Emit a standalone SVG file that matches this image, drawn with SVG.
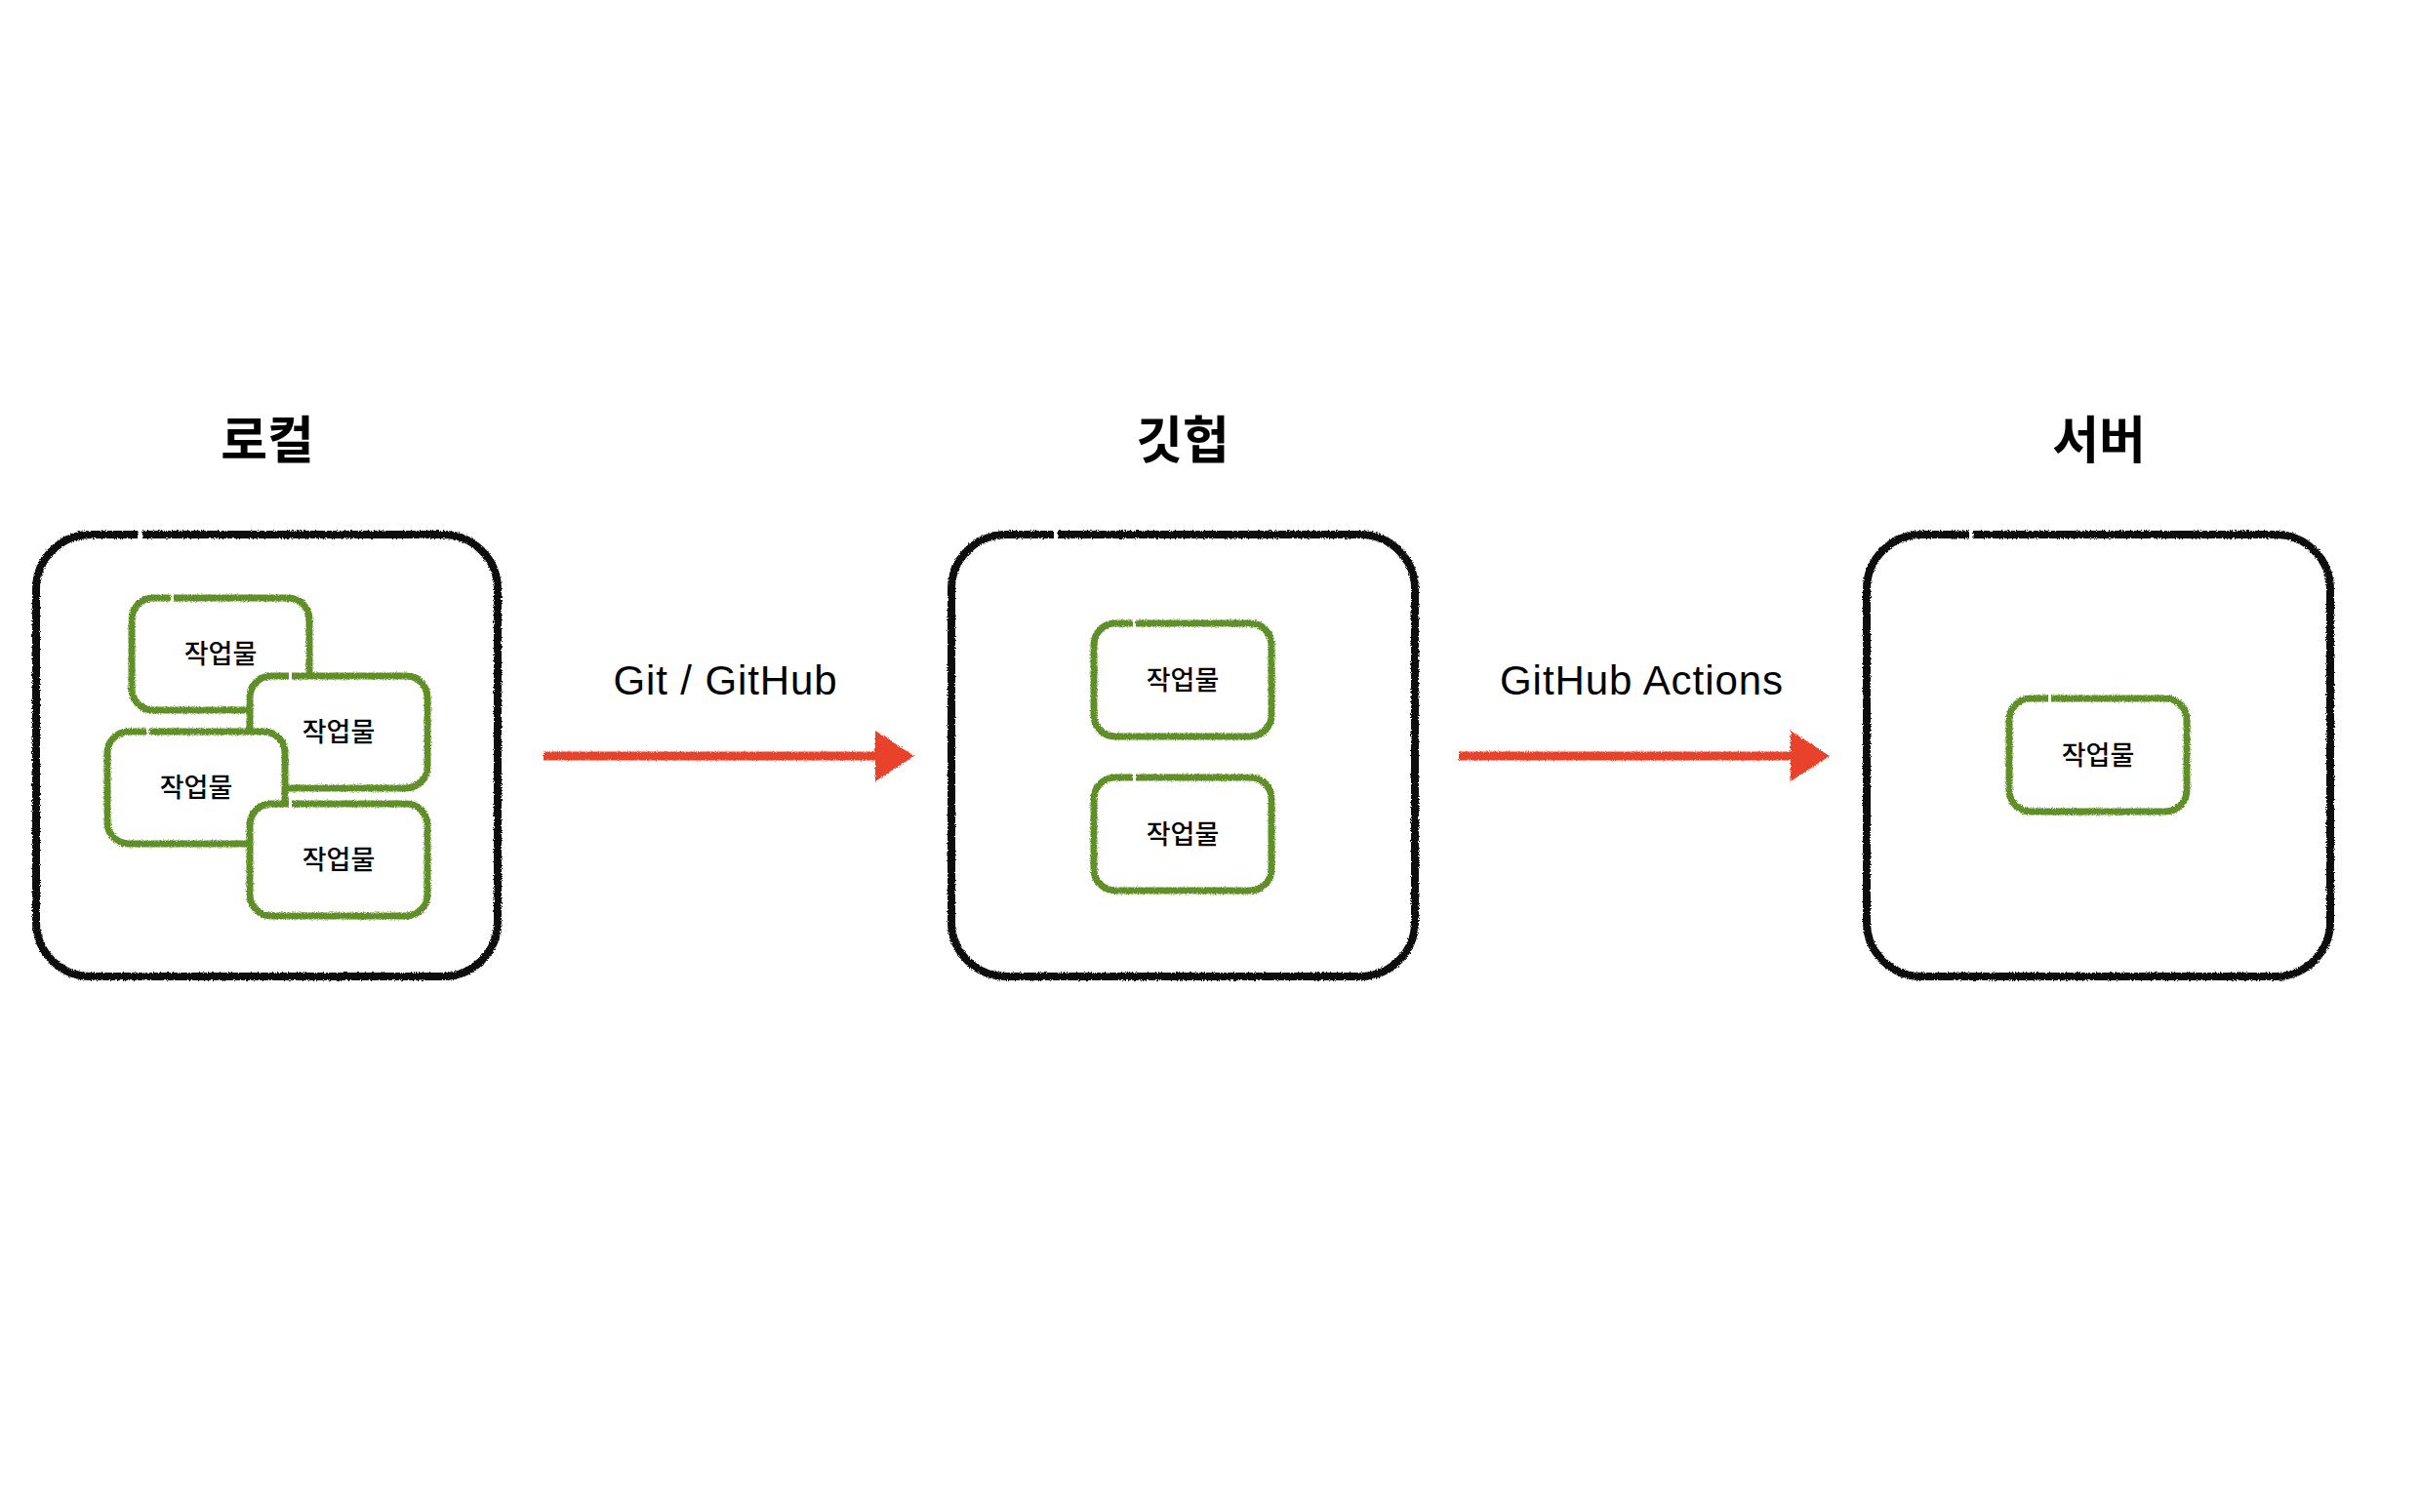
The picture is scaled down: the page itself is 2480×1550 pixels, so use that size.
<svg xmlns="http://www.w3.org/2000/svg" width="2480" height="1550" viewBox="0 0 2480 1550">
<style>
.title{font-family:"Noto Sans CJK KR","Noto Sans",sans-serif;font-weight:700;font-size:52px;fill:#000;text-anchor:middle}
.lbl{font-family:"Noto Sans CJK KR","Noto Sans",sans-serif;font-weight:500;font-size:27px;fill:#000;text-anchor:middle}
.elbl{font-family:"Liberation Sans",Arial,sans-serif;font-size:42px;fill:#000;text-anchor:middle}
.box{fill:#fff;stroke:#111;stroke-width:8}
.item{fill:#fff;stroke:#5e8f27;stroke-width:7}
.arrow{stroke:#e8432a;stroke-width:9;fill:none}
</style>
<defs>
<filter id="rough" filterUnits="userSpaceOnUse" x="0" y="0" width="2480" height="1550">
<feTurbulence type="fractalNoise" baseFrequency="0.9" numOctaves="2" seed="4" result="n"/>
<feDisplacementMap in="SourceGraphic" in2="n" scale="3.5" xChannelSelector="R" yChannelSelector="G"/>
</filter>
<marker id="head" viewBox="0 0 40 52" markerWidth="40" markerHeight="52" refX="3" refY="26" orient="auto" markerUnits="userSpaceOnUse">
<path d="M0,0 L40,26 L0,52 Z" fill="#e8432a"/>
</marker>
</defs>
<rect width="2480" height="1550" fill="#fff"/>

<g id="local">
<text class="title" x="274" y="470">로컬</text>
<path class="box" filter="url(#rough)" d="M146,548 H454 A56,56 0 0 1 510,604 V945 A56,56 0 0 1 454,1001 H93 A56,56 0 0 1 37,945 V604 A56,56 0 0 1 93,548 H141"/>
</g>
<g id="local-item-1">
<path class="item" filter="url(#rough)" d="M178,613 H295 A22,22 0 0 1 317,635 V706 A22,22 0 0 1 295,728 H157 A22,22 0 0 1 135,706 V635 A22,22 0 0 1 157,613 H175"/>
<text class="lbl" x="226" y="680">작업물</text>
</g>
<g id="local-item-2">
<path class="item" filter="url(#rough)" d="M299,693 H416 A22,22 0 0 1 438,715 V786 A22,22 0 0 1 416,808 H278 A22,22 0 0 1 256,786 V715 A22,22 0 0 1 278,693 H296"/>
<text class="lbl" x="347" y="760">작업물</text>
</g>
<g id="local-item-3">
<path class="item" filter="url(#rough)" d="M153,750 H270 A22,22 0 0 1 292,772 V843 A22,22 0 0 1 270,865 H132 A22,22 0 0 1 110,843 V772 A22,22 0 0 1 132,750 H150"/>
<text class="lbl" x="201" y="817">작업물</text>
</g>
<g id="local-item-4">
<path class="item" filter="url(#rough)" d="M299,824 H416 A22,22 0 0 1 438,846 V917 A22,22 0 0 1 416,939 H278 A22,22 0 0 1 256,917 V846 A22,22 0 0 1 278,824 H296"/>
<text class="lbl" x="347" y="891">작업물</text>
</g>

<g id="github">
<text class="title" x="1212" y="470">깃헙</text>
<path class="box" filter="url(#rough)" d="M1084,548 H1394 A56,56 0 0 1 1450,604 V945 A56,56 0 0 1 1394,1001 H1031 A56,56 0 0 1 975,945 V604 A56,56 0 0 1 1031,548 H1080"/>
</g>
<g id="github-item-1">
<path class="item" filter="url(#rough)" d="M1164,639 H1281 A22,22 0 0 1 1303,661 V733 A22,22 0 0 1 1281,755 H1143 A22,22 0 0 1 1121,733 V661 A22,22 0 0 1 1143,639 H1161"/>
<text class="lbl" x="1212" y="707">작업물</text>
</g>
<g id="github-item-2">
<path class="item" filter="url(#rough)" d="M1164,797 H1281 A22,22 0 0 1 1303,819 V891 A22,22 0 0 1 1281,913 H1143 A22,22 0 0 1 1121,891 V819 A22,22 0 0 1 1143,797 H1161"/>
<text class="lbl" x="1212" y="865">작업물</text>
</g>

<g id="server">
<text class="title" x="2151" y="470">서버</text>
<path class="box" filter="url(#rough)" d="M2022,548 H2332 A56,56 0 0 1 2388,604 V945 A56,56 0 0 1 2332,1001 H1969 A56,56 0 0 1 1913,945 V604 A56,56 0 0 1 1969,548 H2018"/>
</g>
<g id="server-item-1">
<path class="item" filter="url(#rough)" d="M2102,716 H2219 A22,22 0 0 1 2241,738 V810 A22,22 0 0 1 2219,832 H2081 A22,22 0 0 1 2059,810 V738 A22,22 0 0 1 2081,716 H2099"/>
<text class="lbl" x="2150" y="784">작업물</text>
</g>

<g id="connectors">
<g filter="url(#rough)">
<line class="arrow" x1="557" y1="775" x2="900" y2="775" marker-end="url(#head)"/>
<line class="arrow" x1="1495" y1="775" x2="1838" y2="775" marker-end="url(#head)"/>
</g>
<text class="elbl" x="743" y="712" textLength="229" lengthAdjust="spacing">Git / GitHub</text>
<text class="elbl" x="1682" y="712" textLength="290" lengthAdjust="spacing">GitHub Actions</text>
</g>
</svg>
